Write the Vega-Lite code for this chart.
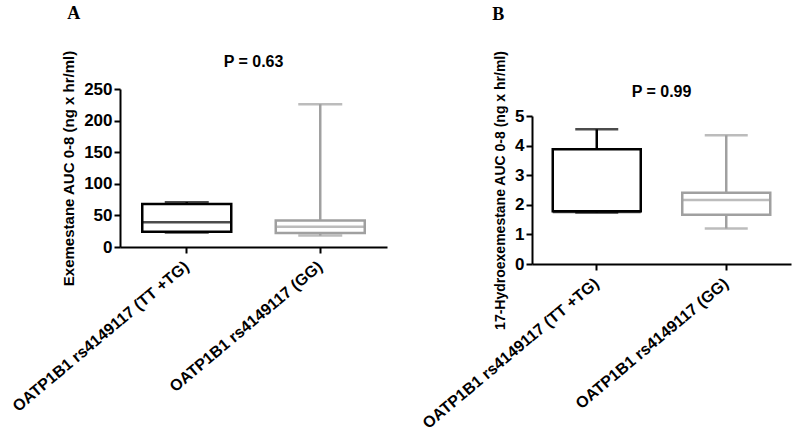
{
  "$schema": "https://vega.github.io/schema/vega-lite/v6.json",
  "background": "white",
  "padding": {"left": 9, "top": 5, "right": 5, "bottom": 5},
  "config": {
    "view": {"stroke": null},
    "font": "Liberation Sans",
    "axis": {
      "domainColor": "black",
      "domainWidth": 2,
      "tickColor": "black",
      "tickWidth": 2,
      "tickSize": 6,
      "grid": false,
      "labelFont": "Liberation Sans",
      "labelFontWeight": "bold",
      "labelColor": "black",
      "labelLimit": 400,
      "titleFont": "Liberation Sans",
      "titleFontWeight": "bold",
      "titleColor": "black",
      "titleLimit": 400
    },
    "axisY": {"labelFontSize": 17, "titlePadding": 7, "labelOverlap": false},
    "axisX": {"title": null, "labelAngle": -40, "labelFontSize": 16, "labelPadding": 11, "labelAlign": "right", "labelBaseline": "middle"}
  },
  "datasets": {
    "a": [
      {"group": "OATP1B1 rs4149117 (TT +TG)", "min": 23, "q1": 24, "median": 39, "q3": 68, "max": 71},
      {"group": "OATP1B1 rs4149117 (GG)", "min": 18, "q1": 22, "median": 32, "q3": 42, "max": 226}
    ],
    "b": [
      {"group": "OATP1B1 rs4149117 (TT +TG)", "min": 1.74, "q1": 1.78, "median": 1.76, "q3": 3.88, "max": 4.55},
      {"group": "OATP1B1 rs4149117 (GG)", "min": 1.2, "q1": 1.66, "median": 2.16, "q3": 2.41, "max": 4.35}
    ],
    "empty": []
  },
  "columns": 2,
  "align": "none",
  "spacing": 32,
  "concat": [
    {
      "title": {"text": "A", "anchor": "start", "frame": "bounds", "font": "Liberation Serif", "fontSize": 18, "fontWeight": "bold", "color": "black", "dx": 58, "offset": 27},
      "vconcat": [
        {
          "title": {"text": "P = 0.63", "fontSize": 16, "fontWeight": "bold", "color": "black", "anchor": "middle", "frame": "group", "offset": -20},
          "width": 267,
          "height": 158,
          "data": {"name": "a"},
          "encoding": {
            "x": {"field": "group", "type": "nominal", "sort": null,
                  "scale": {"paddingInner": 0, "paddingOuter": 0}},
            "color": {"field": "group", "type": "nominal", "sort": null,
                      "scale": {"domain": ["OATP1B1 rs4149117 (TT +TG)", "OATP1B1 rs4149117 (GG)"], "range": ["#000000", "#a0a0a0"]},
                      "legend": null}
          },
          "layer": [
            {"mark": {"type": "rule", "strokeWidth": 2.5},
             "encoding": {"y": {"field": "min", "type": "quantitative",
                                "scale": {"domain": [0, 250], "nice": false},
                                "axis": {"values": [0, 50, 100, 150, 200, 250], "titleFontSize": 15, "title": "Exemestane AUC 0-8 (ng x hr/ml)"}},
                          "y2": {"field": "max"}}},
            {"mark": {"type": "bar", "fill": "white", "strokeWidth": 2.5, "size": 89},
             "encoding": {"y": {"field": "q1", "type": "quantitative", "axis": {"values": [0, 50, 100, 150, 200, 250], "titleFontSize": 15, "title": "Exemestane AUC 0-8 (ng x hr/ml)"}}, "y2": {"field": "q3"}, "stroke": {"field": "group", "type": "nominal", "sort": null, "scale": {"domain": ["OATP1B1 rs4149117 (TT +TG)", "OATP1B1 rs4149117 (GG)"], "range": ["#000000", "#a0a0a0"]}, "legend": null}}},
            {"mark": {"type": "tick", "thickness": 2.5, "size": 89},
             "encoding": {"y": {"field": "median", "type": "quantitative", "axis": {"values": [0, 50, 100, 150, 200, 250], "titleFontSize": 15, "title": "Exemestane AUC 0-8 (ng x hr/ml)"}}}},
            {"mark": {"type": "tick", "thickness": 2.5, "size": 44},
             "encoding": {"y": {"field": "min", "type": "quantitative", "axis": {"values": [0, 50, 100, 150, 200, 250], "titleFontSize": 15, "title": "Exemestane AUC 0-8 (ng x hr/ml)"}}}},
            {"mark": {"type": "tick", "thickness": 2.5, "size": 44},
             "encoding": {"y": {"field": "max", "type": "quantitative", "axis": {"values": [0, 50, 100, 150, 200, 250], "titleFontSize": 15, "title": "Exemestane AUC 0-8 (ng x hr/ml)"}}}}
          ]
        }
      ]
    },
    {
      "title": {"text": "B", "anchor": "start", "frame": "bounds", "font": "Liberation Serif", "fontSize": 18, "fontWeight": "bold", "color": "black", "dx": 73, "offset": 26},
      "bounds": "flush",
      "spacing": 0,
      "vconcat": [
        {
          "width": 259,
          "height": 27,
          "data": {"name": "empty"},
          "mark": {"type": "point", "opacity": 0}
        },
        {
          "title": {"text": "P = 0.99", "fontSize": 16, "fontWeight": "bold", "color": "black", "anchor": "middle", "frame": "group", "offset": -50},
          "width": 259,
          "height": 148,
          "data": {"name": "b"},
          "encoding": {
            "x": {"field": "group", "type": "nominal", "sort": null,
                  "scale": {"paddingInner": 0, "paddingOuter": 0}},
            "color": {"field": "group", "type": "nominal", "sort": null,
                      "scale": {"domain": ["OATP1B1 rs4149117 (TT +TG)", "OATP1B1 rs4149117 (GG)"], "range": ["#000000", "#a0a0a0"]},
                      "legend": null}
          },
          "layer": [
            {"mark": {"type": "rule", "strokeWidth": 2.5},
             "encoding": {"y": {"field": "min", "type": "quantitative",
                                "scale": {"domain": [0, 5], "nice": false},
                                "axis": {"values": [0, 1, 2, 3, 4, 5], "titleFontSize": 14, "title": "17-Hydroexemestane AUC 0-8 (ng x hr/ml)"}},
                          "y2": {"field": "max"}}},
            {"mark": {"type": "bar", "fill": "white", "strokeWidth": 2.5, "size": 88},
             "encoding": {"y": {"field": "q1", "type": "quantitative", "axis": {"values": [0, 1, 2, 3, 4, 5], "titleFontSize": 14, "title": "17-Hydroexemestane AUC 0-8 (ng x hr/ml)"}}, "y2": {"field": "q3"}, "stroke": {"field": "group", "type": "nominal", "sort": null, "scale": {"domain": ["OATP1B1 rs4149117 (TT +TG)", "OATP1B1 rs4149117 (GG)"], "range": ["#000000", "#a0a0a0"]}, "legend": null}}},
            {"mark": {"type": "tick", "thickness": 2.5, "size": 88},
             "encoding": {"y": {"field": "median", "type": "quantitative", "axis": {"values": [0, 1, 2, 3, 4, 5], "titleFontSize": 14, "title": "17-Hydroexemestane AUC 0-8 (ng x hr/ml)"}}}},
            {"mark": {"type": "tick", "thickness": 2.5, "size": 43},
             "encoding": {"y": {"field": "min", "type": "quantitative", "axis": {"values": [0, 1, 2, 3, 4, 5], "titleFontSize": 14, "title": "17-Hydroexemestane AUC 0-8 (ng x hr/ml)"}}}},
            {"mark": {"type": "tick", "thickness": 2.5, "size": 43},
             "encoding": {"y": {"field": "max", "type": "quantitative", "axis": {"values": [0, 1, 2, 3, 4, 5], "titleFontSize": 14, "title": "17-Hydroexemestane AUC 0-8 (ng x hr/ml)"}}}}
          ]
        }
      ]
    }
  ]
}
